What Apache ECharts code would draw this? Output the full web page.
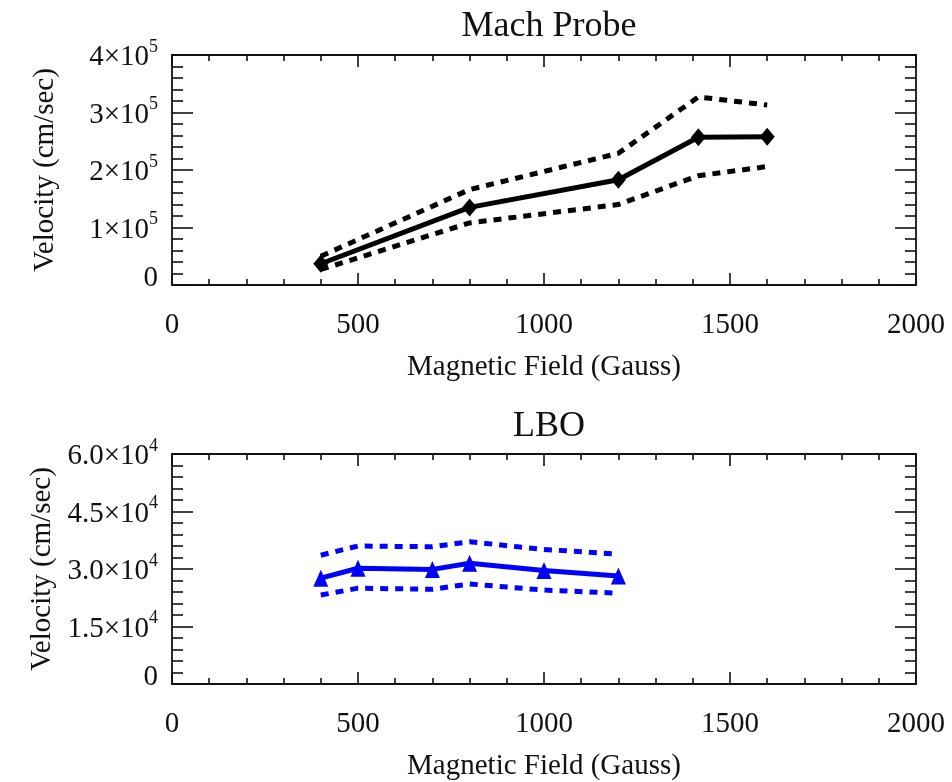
<!DOCTYPE html>
<html>
<head>
<meta charset="utf-8">
<script src="https://cdn.jsdelivr.net/npm/echarts@6/dist/echarts.min.js"></script>
<style>html,body{margin:0;padding:0;background:#fff;}#chart{width:952px;height:782px;}</style>
</head>
<body>
<div id="chart"></div>
<script>
// ---- data ----
const xTicks = [0, 500, 1000, 1500, 2000];

const machField = [400, 800, 1200, 1415, 1600];
const machVel   = [37000, 135000, 183000, 257000, 258000];
const machUpper = [50000, 166000, 229000, 327000, 313000];
const machLower = [27000, 108000, 140000, 190000, 206000];
const machYTicks = [0, 100000, 200000, 300000, 400000];

const lboField = [400, 500, 700, 800, 1000, 1200];
const lboVel   = [27600, 30200, 29900, 31500, 29600, 28200];
const lboUpper = [33600, 36000, 35800, 37100, 35100, 33900];
const lboLower = [23200, 25000, 24700, 26100, 24500, 23700];
const lboYTicks = [0, 15000, 30000, 45000, 60000];

const titles = ['Mach Probe', 'LBO'];
const xTitle = 'Magnetic Field (Gauss)';
const yTitle = 'Velocity (cm/sec)';

// ---- build ----
const FF = 'Liberation Serif';
const INK = '#111';
const pairs = (xs, ys) => xs.map((x, i) => [x, ys[i]]);

const rich = {
  b: {fontFamily: FF, fontSize: 29, color: INK, lineHeight: 34, verticalAlign: 'bottom'},
  s: {fontFamily: FF, fontSize: 18, color: INK, lineHeight: 18, verticalAlign: 'top'},
  z: {fontFamily: FF, fontSize: 29, color: INK, padding: [0, 0, 14, 0]}
};
function fmtMach(v) {
  if (v === 0) return '{z|0}';
  return '{b|' + (v / 1e5) + '×10}{s|5}';
}
function fmtLbo(v) {
  if (v === 0) return '{z|0}';
  return '{b|' + (v / 1e4).toFixed(1) + '×10}{s|4}';
}

const lineStyleAxis = {show: true, onZero: false, lineStyle: {color: INK, width: 1.8}};

function xAxisPair(gi) {
  const base = {
    gridIndex: gi, type: 'value', min: xTicks[0], max: xTicks[xTicks.length - 1], interval: 500,
    axisLine: lineStyleAxis, splitLine: {show: false},
    axisTick: {show: true, inside: true, length: 12, lineStyle: {color: INK, width: 1.6}},
    minorTick: {show: true, splitNumber: 5, length: 6, lineStyle: {color: INK, width: 1.6}},
    minorSplitLine: {show: false}
  };
  return [
    Object.assign({}, base, {
      position: 'bottom',
      axisLabel: {fontFamily: FF, fontSize: 29, color: INK, margin: 26, formatter: (v) => String(v)},
      name: xTitle, nameLocation: 'middle', nameGap: 68,
      nameTextStyle: {fontFamily: FF, fontSize: 29, color: INK}
    }),
    Object.assign({}, base, {position: 'top', axisLabel: {show: false}})
  ];
}
function yAxisPair(gi, ticks, fmt) {
  const step = ticks[1] - ticks[0];
  const base = {
    gridIndex: gi, type: 'value', min: ticks[0], max: ticks[ticks.length - 1], interval: step,
    axisLine: lineStyleAxis, splitLine: {show: false},
    axisTick: {show: true, inside: true, length: 21, lineStyle: {color: INK, width: 1.6}},
    minorTick: {show: true, splitNumber: 5, length: 11, lineStyle: {color: INK, width: 1.6}},
    minorSplitLine: {show: false}
  };
  return [
    Object.assign({}, base, {
      position: 'left',
      axisLabel: {formatter: fmt, rich: rich, margin: 14, color: INK, fontFamily: FF, fontSize: 29},
      name: yTitle, nameLocation: 'middle', nameGap: 112, nameRotate: 90,
      nameTextStyle: {fontFamily: FF, fontSize: 29, color: INK}
    }),
    Object.assign({}, base, {position: 'right', axisLabel: {show: false}})
  ];
}

const xAxes = [].concat(xAxisPair(0), xAxisPair(1));
const yAxes = [].concat(yAxisPair(0, machYTicks, fmtMach), yAxisPair(1, lboYTicks, fmtLbo));

function solid(xi, yi, data, color, symbol, size) {
  return {type: 'line', xAxisIndex: xi, yAxisIndex: yi, data: data,
    symbol: symbol, symbolSize: size, showSymbol: true,
    itemStyle: {color: color}, lineStyle: {color: color, width: 5}, z: 3};
}
function dashed(xi, yi, data, color) {
  return {type: 'line', xAxisIndex: xi, yAxisIndex: yi, data: data, symbol: 'none',
    lineStyle: {color: color, width: 5, type: [8, 7], cap: 'butt'}, z: 2};
}

const option = {
  animation: false,
  backgroundColor: '#fff',
  title: [
    {text: titles[0], left: 544, top: 4, textAlign: 'center',
     textStyle: {fontFamily: FF, fontSize: 36, fontWeight: 'normal', color: INK}},
    {text: titles[1], left: 544, top: 404, textAlign: 'center',
     textStyle: {fontFamily: FF, fontSize: 36, fontWeight: 'normal', color: INK}}
  ],
  grid: [
    {left: 172, top: 55, width: 744, height: 230},
    {left: 172, top: 454, width: 744, height: 230}
  ],
  xAxis: xAxes,
  yAxis: yAxes,
  series: [
    dashed(0, 0, pairs(machField, machUpper), '#000'),
    dashed(0, 0, pairs(machField, machLower), '#000'),
    solid(0, 0, pairs(machField, machVel), '#000', 'diamond', [15, 18]),
    dashed(2, 2, pairs(lboField, lboUpper), '#0000ff'),
    dashed(2, 2, pairs(lboField, lboLower), '#0000ff'),
    solid(2, 2, pairs(lboField, lboVel), '#0000ff', 'triangle', [15, 17])
  ]
};

const chart = echarts.init(document.getElementById('chart'), null, {renderer: 'canvas'});
chart.setOption(option);
</script>
</body>
</html>
